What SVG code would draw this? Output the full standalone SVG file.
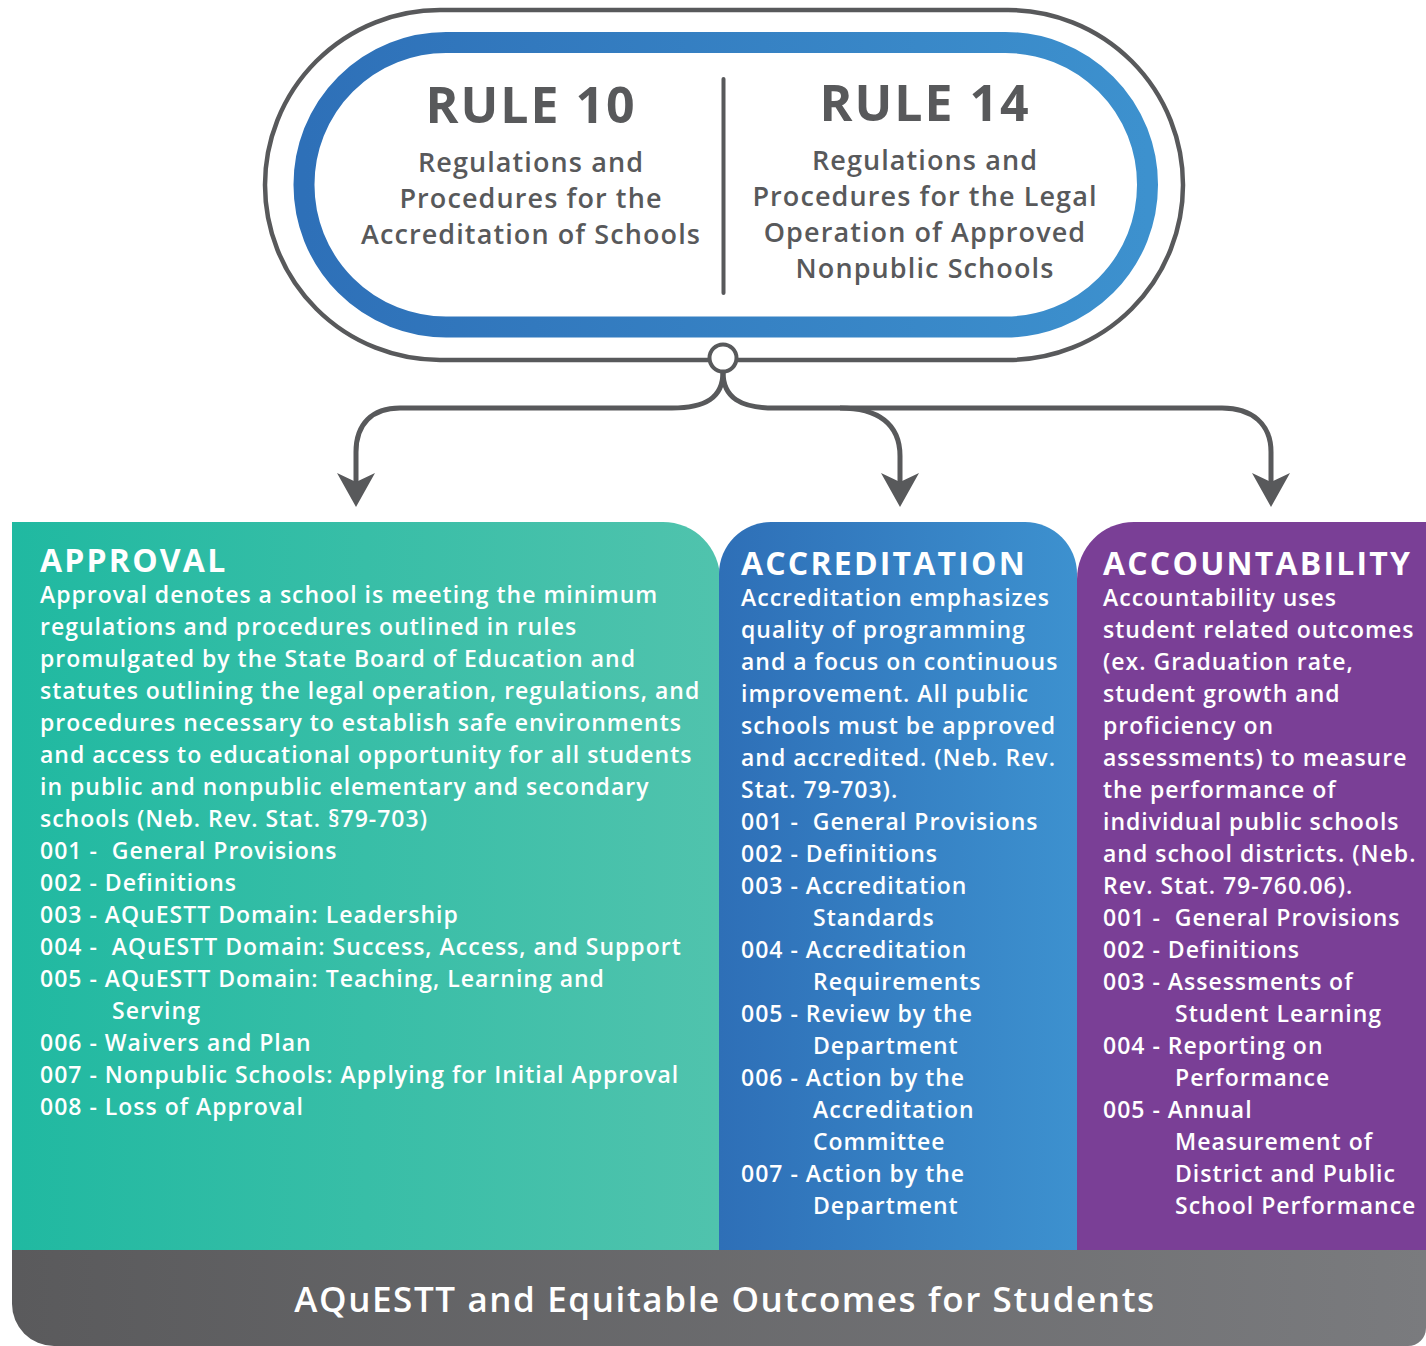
<svg xmlns="http://www.w3.org/2000/svg" width="1426" height="1346" viewBox="0 0 1426 1346">
  <defs>
    <linearGradient id="gPill" x1="0" y1="0" x2="1" y2="0">
      <stop offset="0" stop-color="#2e70b8"/>
      <stop offset="1" stop-color="#3d91ce"/>
    </linearGradient>
    <linearGradient id="gTeal" x1="0" y1="0" x2="1" y2="0">
      <stop offset="0" stop-color="#20b9a1"/>
      <stop offset="1" stop-color="#50c3ad"/>
    </linearGradient>
    <linearGradient id="gBlue" x1="0" y1="0" x2="1" y2="0">
      <stop offset="0" stop-color="#2e6fb7"/>
      <stop offset="1" stop-color="#3d91cf"/>
    </linearGradient>
    <linearGradient id="gGrey" x1="0" y1="0" x2="1" y2="0">
      <stop offset="0" stop-color="#5a5a5c"/>
      <stop offset="1" stop-color="#7a7b7e"/>
    </linearGradient>
    <!-- notched arrowhead; tip sits 17px past the end of the path -->
    <marker id="arrow" viewBox="-36 -20 38 40" refX="-17" refY="0" markerWidth="38" markerHeight="40" markerUnits="userSpaceOnUse" orient="auto">
      <path d="M0,0 L-34,-19 L-25,0 L-34,19 Z" fill="#58595b"/>
    </marker>
    <style>
      .grey { fill: none; stroke: #58595b; stroke-width: 4.5; }
      .conn { fill: none; stroke: #58595b; stroke-width: 5; }
      .rt { font-family: "Open Sans", "Noto Sans", sans-serif; fill: #58595b; text-anchor: middle; }
      .rule { font-size: 50px; font-weight: 700; letter-spacing: 2px; }
      .sub { font-size: 27px; font-weight: 600; letter-spacing: 1.1px; }
      .pt { font-family: "Open Sans", "Noto Sans", sans-serif; fill: #ffffff; }
      .ph { font-size: 32px; font-weight: 700; letter-spacing: 2.2px; }
      .pb { font-size: 23px; font-weight: 600; letter-spacing: 1px; white-space: pre; }
      .bar { font-family: "Open Sans", "Noto Sans", sans-serif; fill: #ffffff; font-size: 35px; font-weight: 600; letter-spacing: 1.6px; text-anchor: middle; }
    </style>
  </defs>

  <rect width="1426" height="1346" fill="#ffffff"/>

  <!-- Header: Rule 10 and Rule 14 -->
  <g id="rules">
    <rect class="grey" x="265" y="10" width="918" height="350" rx="175" ry="175"/>
    <rect x="304" y="42.5" width="843.5" height="284.5" rx="142" ry="142" fill="none" stroke="url(#gPill)" stroke-width="21"/>
    <line x1="723.5" y1="79" x2="723.5" y2="293" stroke="#58595b" stroke-width="4" stroke-linecap="round"/>
    <g class="rt">
      <text class="rule" x="531" y="123">RULE 10</text>
      <text class="sub" x="531" y="172">Regulations and</text>
      <text class="sub" x="531" y="208">Procedures for the</text>
      <text class="sub" x="531" y="244">Accreditation of Schools</text>
      <text class="rule" x="925" y="121">RULE 14</text>
      <text class="sub" x="925" y="170">Regulations and</text>
      <text class="sub" x="925" y="206">Procedures for the Legal</text>
      <text class="sub" x="925" y="242">Operation of Approved</text>
      <text class="sub" x="925" y="278">Nonpublic Schools</text>
    </g>
  </g>

  <!-- Connectors fanning out from the hub -->
  <g id="connectors">
    <path class="conn" d="M723,372 C723,398 705,408 672,408 H400 C372,408 356,424 356,452 V490" marker-end="url(#arrow)"/>
    <path class="conn" d="M723,372 C723,398 741,408 774,408 H1222 C1252,408 1271,424 1271,452 V490" marker-end="url(#arrow)"/>
    <path class="conn" d="M840,408 C878,408 900,424 900,456 V490" marker-end="url(#arrow)"/>
    <circle cx="723" cy="358" r="13.5" fill="#ffffff" stroke="#58595b" stroke-width="4"/>
  </g>

  <!-- Approval -->
  <g id="approval">
    <path d="M12,522 H663 A57,57 0 0 1 720,579 V1251 H12 Z" fill="url(#gTeal)"/>
    <g class="pt">
      <text class="ph" x="40" y="572">APPROVAL</text>
      <text class="pb" x="40" y="603">Approval denotes a school is meeting the minimum</text>
      <text class="pb" x="40" y="635">regulations and procedures outlined in rules</text>
      <text class="pb" x="40" y="667">promulgated by the State Board of Education and</text>
      <text class="pb" x="40" y="699">statutes outlining the legal operation, regulations, and</text>
      <text class="pb" x="40" y="731">procedures necessary to establish safe environments</text>
      <text class="pb" x="40" y="763">and access to educational opportunity for all students</text>
      <text class="pb" x="40" y="795">in public and nonpublic elementary and secondary</text>
      <text class="pb" x="40" y="827">schools (Neb. Rev. Stat. §79-703)</text>
      <text class="pb" x="40" y="859">001 -  General Provisions</text>
      <text class="pb" x="40" y="891">002 - Definitions</text>
      <text class="pb" x="40" y="923">003 - AQuESTT Domain: Leadership</text>
      <text class="pb" x="40" y="955">004 -  AQuESTT Domain: Success, Access, and Support</text>
      <text class="pb" x="40" y="987">005 - AQuESTT Domain: Teaching, Learning and</text>
      <text class="pb" x="112" y="1019">Serving</text>
      <text class="pb" x="40" y="1051">006 - Waivers and Plan</text>
      <text class="pb" x="40" y="1083">007 - Nonpublic Schools: Applying for Initial Approval</text>
      <text class="pb" x="40" y="1115">008 - Loss of Approval</text>
    </g>
  </g>

  <!-- Accreditation -->
  <g id="accreditation">
    <path d="M719,1251 V574 A52,52 0 0 1 771,522 H1025 A52,52 0 0 1 1077,574 V1251 Z" fill="url(#gBlue)"/>
    <g class="pt">
      <text class="ph" x="741" y="575">ACCREDITATION</text>
      <text class="pb" x="741" y="606">Accreditation emphasizes</text>
      <text class="pb" x="741" y="638">quality of programming</text>
      <text class="pb" x="741" y="670">and a focus on continuous</text>
      <text class="pb" x="741" y="702">improvement. All public</text>
      <text class="pb" x="741" y="734">schools must be approved</text>
      <text class="pb" x="741" y="766">and accredited. (Neb. Rev.</text>
      <text class="pb" x="741" y="798">Stat. 79-703).</text>
      <text class="pb" x="741" y="830">001 -  General Provisions</text>
      <text class="pb" x="741" y="862">002 - Definitions</text>
      <text class="pb" x="741" y="894">003 - Accreditation</text>
      <text class="pb" x="813" y="926">Standards</text>
      <text class="pb" x="741" y="958">004 - Accreditation</text>
      <text class="pb" x="813" y="990">Requirements</text>
      <text class="pb" x="741" y="1022">005 - Review by the</text>
      <text class="pb" x="813" y="1054">Department</text>
      <text class="pb" x="741" y="1086">006 - Action by the</text>
      <text class="pb" x="813" y="1118">Accreditation</text>
      <text class="pb" x="813" y="1150">Committee</text>
      <text class="pb" x="741" y="1182">007 - Action by the</text>
      <text class="pb" x="813" y="1214">Department</text>
    </g>
  </g>

  <!-- Accountability -->
  <g id="accountability">
    <path d="M1077,1251 V579 A57,57 0 0 1 1134,522 H1426 V1251 Z" fill="#7a3f96"/>
    <g class="pt">
      <text class="ph" x="1103" y="575">ACCOUNTABILITY</text>
      <text class="pb" x="1103" y="606">Accountability uses</text>
      <text class="pb" x="1103" y="638">student related outcomes</text>
      <text class="pb" x="1103" y="670">(ex. Graduation rate,</text>
      <text class="pb" x="1103" y="702">student growth and</text>
      <text class="pb" x="1103" y="734">proficiency on</text>
      <text class="pb" x="1103" y="766">assessments) to measure</text>
      <text class="pb" x="1103" y="798">the performance of</text>
      <text class="pb" x="1103" y="830">individual public schools</text>
      <text class="pb" x="1103" y="862">and school districts. (Neb.</text>
      <text class="pb" x="1103" y="894">Rev. Stat. 79-760.06).</text>
      <text class="pb" x="1103" y="926">001 -  General Provisions</text>
      <text class="pb" x="1103" y="958">002 - Definitions</text>
      <text class="pb" x="1103" y="990">003 - Assessments of</text>
      <text class="pb" x="1175" y="1022">Student Learning</text>
      <text class="pb" x="1103" y="1054">004 - Reporting on</text>
      <text class="pb" x="1175" y="1086">Performance</text>
      <text class="pb" x="1103" y="1118">005 - Annual</text>
      <text class="pb" x="1175" y="1150">Measurement of</text>
      <text class="pb" x="1175" y="1182">District and Public</text>
      <text class="pb" x="1175" y="1214">School Performance</text>
    </g>
  </g>

  <!-- Foundation bar -->
  <g id="foundation">
    <path d="M12,1250 H1426 V1328 A18,18 0 0 1 1408,1346 H54 A42,42 0 0 1 12,1304 Z" fill="url(#gGrey)"/>
    <text class="bar" x="725" y="1312">AQuESTT and Equitable Outcomes for Students</text>
  </g>
</svg>
